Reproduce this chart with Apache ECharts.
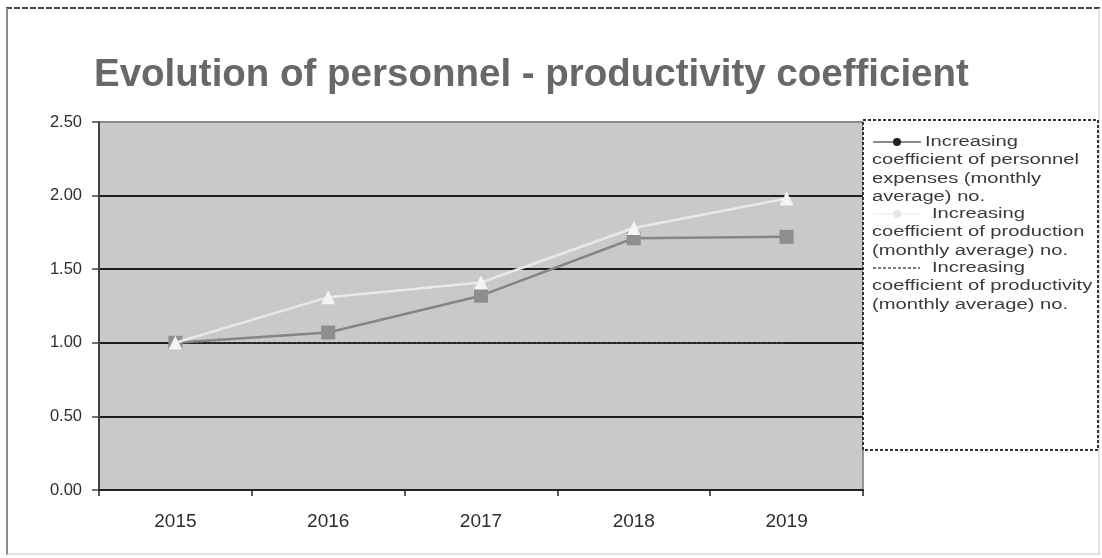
<!DOCTYPE html>
<html>
<head>
<meta charset="utf-8">
<script src="https://cdn.jsdelivr.net/npm/echarts@6/dist/echarts.min.js"></script>
<style>
  html, body { margin: 0; padding: 0; background: #ffffff; }
  #chart { width: 1102px; height: 558px; }
</style>
</head>
<body>
<div id="chart"></div>
<script>
// Years on the category axis
const years = ['2015', '2016', '2017', '2018', '2019'];

// Increasing coefficients (monthly average)
const personnelExpenses = [1.00, 1.07, 1.32, 1.71, 1.72];
const production = [1.00, 1.31, 1.41, 1.78, 1.98];
const productivity = [1.00, 1.00, 1.00, 1.00, 1.00];

// Legend wording, one array of wrapped lines per series
const legendPersonnel = ['Increasing', 'coefficient of personnel', 'expenses (monthly', 'average) no.'];
const legendProduction = ['Increasing', 'coefficient of production', '(monthly average) no.'];
const legendProductivity = ['Increasing', 'coefficient of productivity', '(monthly average) no.'];

const titleText = 'Evolution of personnel - productivity coefficient';

const chart = echarts.init(document.getElementById('chart'), null, { renderer: 'canvas' });

// Legend panel built from graphic elements (Excel-style wrapped entries)
const LX = 872, LINE_H = 18.2, TEXT_SCALE = 1.3;
function legendText(lines, startY, firstX) {
  return lines.map((t, i) => ({
    type: 'text',
    x: i === 0 ? firstX : LX,
    y: startY + i * LINE_H,
    scaleX: TEXT_SCALE,
    style: {
      text: t,
      fill: '#3a3a3a',
      font: '15.5px "Liberation Sans", Arial, sans-serif',
      textVerticalAlign: 'middle'
    },
    z: 20
  }));
}

const legendGraphics = [
  {
    type: 'rect',
    shape: { x: 863, y: 120, width: 235, height: 330 },
    style: { fill: '#ffffff', stroke: '#333333', lineWidth: 2, lineDash: [3, 2] },
    z: 10
  },
  // personnel expenses icon
  { type: 'line', shape: { x1: 873, y1: 142, x2: 921, y2: 142 }, style: { stroke: '#8a8a8a', lineWidth: 2 }, z: 20 },
  { type: 'circle', shape: { cx: 897, cy: 142, r: 4 }, style: { fill: '#222222' }, z: 21 },
  // production icon
  { type: 'line', shape: { x1: 873, y1: 214, x2: 921, y2: 214 }, style: { stroke: '#f2f2f2', lineWidth: 2 }, z: 20 },
  { type: 'circle', shape: { cx: 897, cy: 214, r: 4 }, style: { fill: '#e6e6e6' }, z: 21 },
  // productivity icon
  { type: 'line', shape: { x1: 873, y1: 268, x2: 920, y2: 268 }, style: { stroke: '#555555', lineWidth: 1.5, lineDash: [3, 2] }, z: 20 }
]
  .concat(legendText(legendPersonnel, 142, 925))
  .concat(legendText(legendProduction, 214, 932))
  .concat(legendText(legendProductivity, 268, 932));

// Outer frame of the chart object
const frameGraphics = [
  { type: 'line', shape: { x1: 6, y1: 8, x2: 1100, y2: 8 }, style: { stroke: '#444444', lineWidth: 2, lineDash: [6, 2] }, z: 1 },
  { type: 'line', shape: { x1: 7, y1: 8, x2: 7, y2: 555 }, style: { stroke: '#8a8a8a', lineWidth: 2 }, z: 1 },
  { type: 'line', shape: { x1: 7, y1: 554, x2: 1100, y2: 554 }, style: { stroke: '#c8c8c8', lineWidth: 1 }, z: 1 },
  { type: 'line', shape: { x1: 1099, y1: 8, x2: 1099, y2: 554 }, style: { stroke: '#c8c8c8', lineWidth: 1 }, z: 1 }
];

const option = {
  backgroundColor: '#ffffff',
  animation: false,
  title: {
    text: titleText,
    left: 89,
    top: 51,
    textStyle: {
      fontFamily: '"Liberation Sans", Arial, sans-serif',
      fontWeight: 'bold',
      fontSize: 38.5,
      color: '#686868'
    }
  },
  legend: { show: false },
  grid: {
    left: 99,
    right: 239,
    top: 122,
    bottom: 68,
    show: true,
    backgroundColor: '#c9c9c9',
    borderColor: '#7a7a7a',
    borderWidth: 1.5
  },
  xAxis: {
    type: 'category',
    data: years,
    boundaryGap: true,
    axisLine: { show: true, lineStyle: { color: '#222222', width: 2 } },
    axisTick: { show: true, length: 6, lineStyle: { color: '#222222', width: 1.5 } },
    axisLabel: {
      margin: 22,
      fontSize: 19,
      color: '#2e2e2e',
      fontFamily: '"Liberation Sans", Arial, sans-serif'
    }
  },
  yAxis: {
    type: 'value',
    min: 0,
    max: 2.5,
    interval: 0.5,
    axisLine: { show: true, lineStyle: { color: '#444444', width: 2 } },
    axisTick: { show: true, length: 7, lineStyle: { color: '#444444', width: 1.5 } },
    axisLabel: {
      margin: 17,
      fontSize: 16.5,
      color: '#2e2e2e',
      fontFamily: '"Liberation Sans", Arial, sans-serif',
      formatter: (v) => v.toFixed(2)
    },
    splitLine: {
      show: true,
      lineStyle: {
        color: ['#1e1e1e', '#1e1e1e', '#1e1e1e', '#1e1e1e', '#1e1e1e', '#8c8c8c'],
        width: 2
      }
    }
  },
  series: [
    {
      name: 'Increasing coefficient of personnel expenses (monthly average) no.',
      type: 'line',
      data: personnelExpenses,
      symbol: 'rect',
      symbolSize: 14,
      lineStyle: { color: '#858585', width: 2.5 },
      itemStyle: { color: '#8e8e8e' },
      z: 4
    },
    {
      name: 'Increasing coefficient of production (monthly average) no.',
      type: 'line',
      data: production,
      symbol: 'triangle',
      symbolSize: 14,
      lineStyle: { color: '#e9e9e9', width: 2.5 },
      itemStyle: { color: '#f4f4f4' },
      z: 5
    },
    {
      name: 'Increasing coefficient of productivity (monthly average) no.',
      type: 'line',
      data: productivity,
      symbol: 'none',
      lineStyle: { color: '#3a3a3a', width: 1.5, type: [3, 2] },
      z: 3
    }
  ],
  graphic: frameGraphics.concat(legendGraphics)
};

chart.setOption(option);
</script>
</body>
</html>
